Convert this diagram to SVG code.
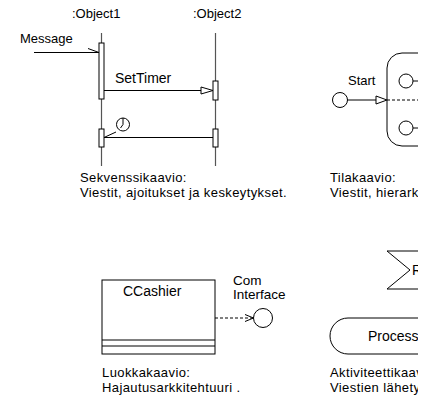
<svg xmlns="http://www.w3.org/2000/svg" width="431" height="403" viewBox="0 0 431 403">
<style>
text{font-family:"Liberation Sans",Arial,sans-serif;fill:#000}
.l{font-size:13px}
.c{font-size:14px}
.cap{font-size:13px;letter-spacing:0.4px}
.s{fill:none;stroke:#000;stroke-width:1}
.w{fill:#fff;stroke:#000;stroke-width:1}
.life{fill:none;stroke:#555;stroke-width:1.2}
.d{fill:none;stroke:#000;stroke-width:1;stroke-dasharray:3,2}
</style>
<defs>
<clipPath id="clip"><rect x="0" y="0" width="418" height="403"/></clipPath>
</defs>
<rect width="431" height="403" fill="#fff"/>
<g id="sequence">
<g id="object1">
<text class="l" x="72" y="18">:Object1</text>
<line class="life" x1="101.5" y1="33" x2="101.5" y2="166"/>
<rect class="w" x="99" y="43" width="5" height="56"/>
<rect class="w" x="99" y="129" width="5" height="18"/>
</g>
<g id="object2">
<text class="l" x="193" y="18">:Object2</text>
<line class="life" x1="215.5" y1="33" x2="215.5" y2="166"/>
<rect class="w" x="213" y="81" width="5" height="19"/>
<rect class="w" x="213" y="129" width="5" height="18"/>
</g>
<g id="seq-connectors">
<text class="l" x="20" y="43">Message</text>
<line class="s" x1="34" y1="52.5" x2="99" y2="52.5"/>
<line class="s" x1="88" y1="48.5" x2="99" y2="52.5"/>
<text class="c" x="115" y="83">SetTimer</text>
<line class="s" x1="104" y1="90.5" x2="201" y2="90.5"/>
<polygon class="w" points="201,87 213,90.5 201,94"/>
<line class="s" x1="104" y1="137.5" x2="213" y2="137.5"/>
<line class="s" x1="104" y1="137.5" x2="116" y2="132"/>
<circle class="s" cx="123" cy="124.5" r="6.5"/>
<path class="s" d="M123,118 L123,124.5 L120.5,128"/>
</g>
<text class="cap" x="80" y="182">Sekvenssikaavio:</text>
<text class="cap" x="80" y="197">Viestit, ajoitukset ja keskeytykset.</text>
</g>
<g id="state" clip-path="url(#clip)">
<g id="start-node">
<circle class="s" cx="340" cy="100" r="7.5"/>
<text class="l" x="348" y="85">Start</text>
</g>
<g id="state-box">
<rect class="s" x="387" y="53" width="80" height="93" rx="15" ry="15"/>
<circle class="s" cx="406" cy="81" r="7"/>
<line class="s" x1="413" y1="81" x2="418" y2="81"/>
<circle class="s" cx="406" cy="128" r="7"/>
<line class="s" x1="413" y1="128" x2="418" y2="128"/>
</g>
<g id="state-connectors">
<line class="s" x1="347.5" y1="100" x2="376" y2="100"/>
<polygon class="w" points="376,96 387,100 376,104"/>
<line class="d" x1="387" y1="100" x2="418" y2="100"/>
</g>
<text class="cap" x="330" y="182">Tilakaavio:</text>
<text class="cap" x="330" y="197">Viestit, hierark</text>
</g>
<g id="class">
<g id="ccashier">
<rect class="w" x="102" y="280" width="113" height="74"/>
<line class="s" x1="102" y1="340" x2="215" y2="340"/>
<line class="s" x1="102" y1="346" x2="215" y2="346"/>
<text class="c" x="123" y="296">CCashier</text>
</g>
<g id="com-interface">
<circle class="s" cx="263" cy="318" r="9.5"/>
<text class="l" x="233" y="285" style="font-size:13.5px">Com</text>
<text class="l" x="233" y="299" style="font-size:13.5px">Interface</text>
</g>
<g id="class-connectors">
<line class="d" x1="215" y1="318" x2="253" y2="318"/>
<polyline class="s" points="245,314.5 253.5,318 245,321.5"/>
</g>
<text class="cap" x="102" y="377">Luokkakaavio:</text>
<text class="cap" x="102" y="392">Hajautusarkkitehtuuri .</text>
</g>
<g id="activity" clip-path="url(#clip)">
<g id="receive">
<polygon class="w" points="387,251 440,251 440,289 387,289 410,270"/>
<text class="c" x="412" y="275">R</text>
</g>
<g id="process">
<rect class="w" x="330" y="318" width="130" height="36" rx="18" ry="18"/>
<text class="c" x="368" y="341">Process</text>
</g>
<text class="cap" x="330" y="377">Aktiviteettikaav</text>
<text class="cap" x="330" y="392">Viestien lähety</text>
</g>
</svg>
